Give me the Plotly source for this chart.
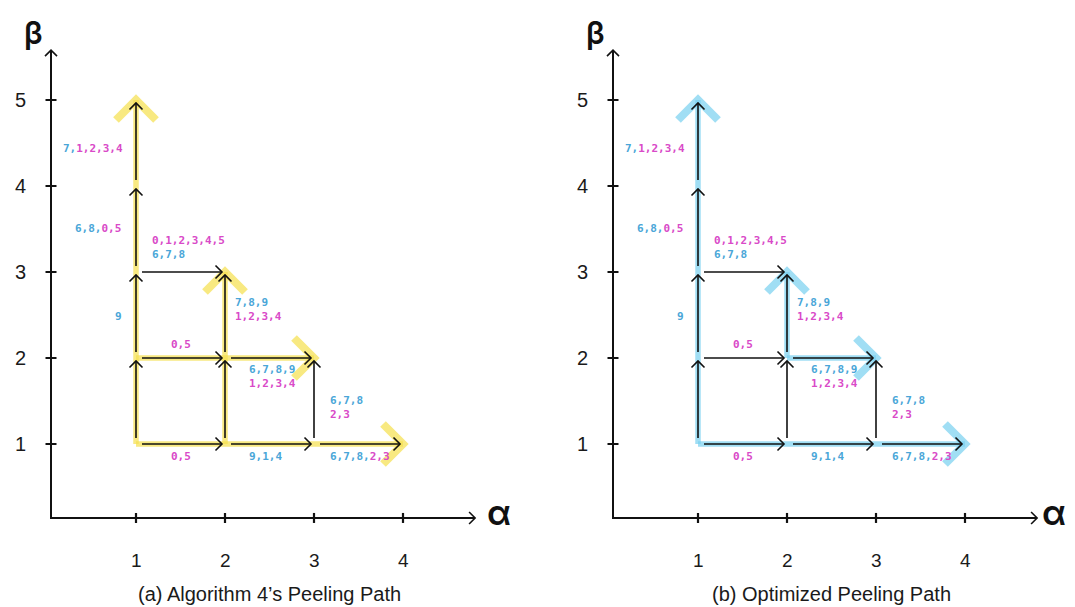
import plotly.graph_objects as go

# page body has an 8px margin, so the figure is 8px smaller than the window
W, H = 1067, 599

# ---------------- data ----------------
ALPHA_TICKS = [1, 2, 3, 4]
BETA_TICKS = [1, 2, 3, 4, 5]

# grid edges of the peeling lattice: (alpha0, beta0, alpha1, beta1)
EDGES = [
    (1, 1, 1, 2), (1, 2, 1, 3), (1, 3, 1, 4), (1, 4, 1, 5),
    (2, 1, 2, 2), (2, 2, 2, 3), (3, 1, 3, 2),
    (1, 1, 2, 1), (2, 1, 3, 1), (3, 1, 4, 1),
    (1, 2, 2, 2), (2, 2, 3, 2), (1, 3, 2, 3),
]

# highlighted peeling paths (start node, end node)
PATH_ALG4 = [((1, 1), (1, 5)), ((1, 1), (4, 1)), ((2, 1), (2, 3)), ((1, 2), (3, 2))]
PATH_OPT = [((1, 1), (1, 5)), ((1, 1), (4, 1)), ((2, 2), (2, 3)), ((2, 2), (3, 2))]

# edge labels: lines of (text, colour key)
LABEL_TEXTS = [
    [[("7,", "b"), ("1,2,3,4", "m")]],
    [[("6,8,", "b"), ("0,5", "m")]],
    [[("0,1,2,3,4,5", "m")], [("6,7,8", "b")]],
    [[("9", "b")]],
    [[("7,8,9", "b")], [("1,2,3,4", "m")]],
    [[("0,5", "m")]],
    [[("6,7,8,9", "b")], [("1,2,3,4", "m")]],
    [[("6,7,8", "b")], [("2,3", "m")]],
    [[("0,5", "m")]],
    [[("9,1,4", "b")]],
    [[("6,7,8,", "b"), ("2,3", "m")]],
]
# label placement (alpha, beta, x-anchor)
LABEL_POS = [
    (0.876, 4.44, "right"),
    (0.854, 3.51, "right"),
    (1.157, 3.28, "left"),
    (0.80, 2.48, "center"),
    (2.09, 2.56, "left"),
    (1.506, 2.16, "center"),
    (2.247, 1.78, "left"),
    (3.157, 1.42, "left"),
    (1.506, 0.85, "center"),
    (2.45, 0.85, "center"),
    (3.157, 0.85, "left"),
]

CAPTIONS = ["(a) Algorithm 4\u2019s Peeling Path", "(b) Optimized Peeling Path"]

# ---------------- styles ----------------
PX_A = 89.0   # px per alpha unit
PX_B = 86.0   # px per beta unit
X0_LEFT = 39.0     # px of alpha=0, left panel
X0_RIGHT = 601.0   # px of alpha=0, right panel
Y0 = 522.0         # px of beta=0
COL = {"b": "#4aa6d8", "m": "#d94ac8"}
HL_COLORS = ["rgba(245,224,80,0.72)", "rgba(120,208,240,0.70)"]
ALPHA_LABEL_X = [5.08, 5.0]
AX_ORIGIN = (0.045, 0.14)
AX_END = (4.81, 5.58)

fig = go.Figure()


def px(dx, dy):
    return dx / PX_A, dy / PX_B


def line(xs, ys, color, width, ax):
    fig.add_trace(go.Scatter(x=xs, y=ys, mode="lines",
                             line=dict(color=color, width=width),
                             xaxis=ax[0], yaxis=ax[1],
                             hoverinfo="skip", showlegend=False))


def chevron(tip, u, back, side, color, width, ax):
    ux, uy = u
    bx, by = px(-ux * back, -uy * back)
    sx, sy = px(-uy * side, ux * side)
    xs = [tip[0] + bx + sx, tip[0], tip[0] + bx - sx]
    ys = [tip[1] + by + sy, tip[1], tip[1] + by - sy]
    line(xs, ys, color, width, ax)


def unit(a0, b0, a1, b1):
    dx, dy = a1 - a0, b1 - b0
    n = (dx * dx + dy * dy) ** 0.5
    return dx / n, dy / n


def panel(ax, path, hl_color):
    # highlighted path (per unit edge so overlaps at nodes deepen)
    for (p0, p1) in path:
        u = unit(p0[0], p0[1], p1[0], p1[1])
        steps = int(round(abs(p1[0] - p0[0]) + abs(p1[1] - p0[1])))
        for k in range(steps):
            a = (p0[0] + u[0] * k, p0[1] + u[1] * k)
            b = (p0[0] + u[0] * (k + 1), p0[1] + u[1] * (k + 1))
            line([a[0], b[0]], [a[1], b[1]], hl_color, 5.5, ax)
        chevron(p1, u, 20, 20, hl_color, 8, ax)

    # black grid arrows
    for (a0, b0, a1, b1) in EDGES:
        u = unit(a0, b0, a1, b1)
        s = px(u[0] * 6, u[1] * 6)
        e = px(u[0] * 3, u[1] * 3)
        start = (a0 + s[0], b0 + s[1])
        tip = (a1 - e[0], b1 - e[1])
        line([start[0], tip[0]], [start[1], tip[1]], "#111111", 1.6, ax)
        chevron(tip, u, 6.5, 6.5, "#111111", 1.6, ax)

    # axes
    ox, oy = AX_ORIGIN
    line([ox, ox, AX_END[0]], [AX_END[1], oy, oy], "#111111", 2, ax)
    chevron((ox, AX_END[1]), (0, 1), 6, 6, "#111111", 1.6, ax)
    chevron((AX_END[0], oy), (1, 0), 6, 6, "#111111", 1.6, ax)
    tx, ty = px(5.5, 5)
    for b in BETA_TICKS:
        line([ox - tx, ox + tx], [b, b], "#111111", 2.2, ax)
    for a in ALPHA_TICKS:
        line([a, a], [oy - ty, oy + ty], "#111111", 2.2, ax)


def add_text(ax, x, y, text, size, family, color="#111111", xanchor="center", weight="normal"):
    fig.add_annotation(x=x, y=y, xref=ax[0], yref=ax[1], text=text,
                       showarrow=False, xanchor=xanchor, yanchor="middle", align=xanchor,
                       font=dict(size=size, family=family, color=color, weight=weight))


def panel_text(ax, caption, alpha_x):
    for b in BETA_TICKS:
        add_text(ax, -0.30, b, str(b), 20, "Liberation Sans", color="#1a1a1a")
    for a in ALPHA_TICKS:
        add_text(ax, a, -0.35, str(a), 19, "Liberation Sans", color="#1a1a1a")
    add_text(ax, -0.15, 5.78, "\u03b2", 31, "Inter", weight=600)
    add_text(ax, alpha_x, 0.21, "\u03b1", 35, "Inter", weight=600)
    add_text(ax, 2.5, -0.745, caption, 20, "Liberation Sans", color="#1a1a1a")
    for lines, (x, y, xa) in zip(LABEL_TEXTS, LABEL_POS):
        html = "<br>".join(
            "".join(f'<span style="color:{COL[c]}">{t}</span>' for t, c in ln)
            for ln in lines)
        add_text(ax, x, y, html, 11, "DejaVu Sans Mono", xanchor=xa, weight="bold")


AXES = [("x", "y"), ("x2", "y2")]
for ax, path, col, cap, axx in zip(AXES, [PATH_ALG4, PATH_OPT], HL_COLORS, CAPTIONS, ALPHA_LABEL_X):
    panel(ax, path, col)
    panel_text(ax, cap, axx)

XR_L = [-0.4, 5.5]
XR_R = [-0.4, 5.2]
dl0 = X0_LEFT + XR_L[0] * PX_A
dr0 = X0_RIGHT + XR_R[0] * PX_A
yr = [(Y0 - H) / PX_B, Y0 / PX_B]
fig.update_layout(
    width=W, height=H,
    margin=dict(l=0, r=0, t=0, b=0),
    paper_bgcolor="white", plot_bgcolor="white",
    xaxis=dict(domain=[dl0 / W, (dl0 + (XR_L[1] - XR_L[0]) * PX_A) / W], range=XR_L, visible=False),
    yaxis=dict(domain=[0, 1], range=yr, visible=False),
    xaxis2=dict(domain=[dr0 / W, (dr0 + (XR_R[1] - XR_R[0]) * PX_A) / W], range=XR_R, visible=False),
    yaxis2=dict(domain=[0, 1], range=yr, visible=False, anchor="x2"),
)

fig.write_html("out.html")
